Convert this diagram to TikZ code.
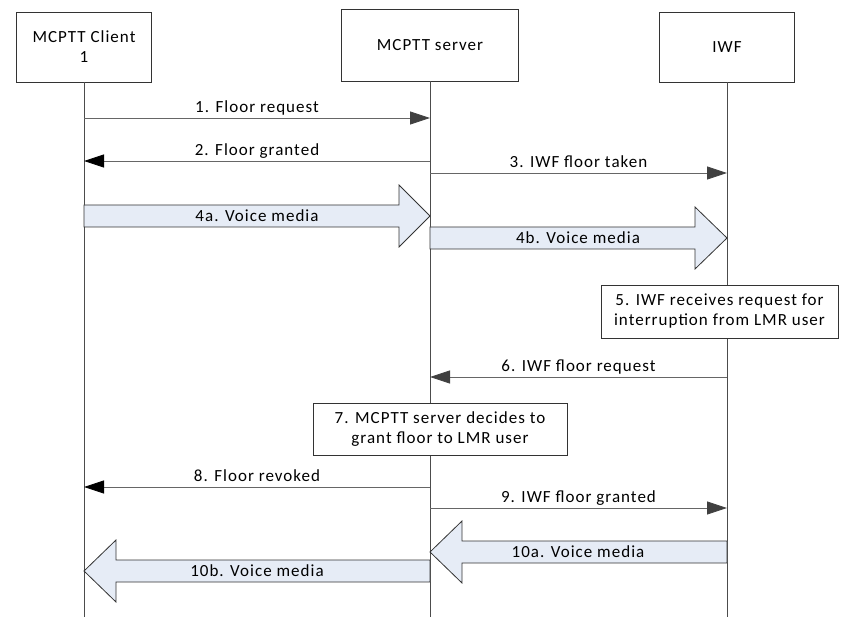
\documentclass[tikz,border=0pt]{standalone}
\usepackage{fontspec}
\setmainfont{Carlito}[LetterSpace=6]
\usetikzlibrary{arrows.meta}
\definecolor{mediablue}{RGB}{230,236,246}
\tikzset{entity/.style={draw=black!80, fill=white, line width=0.8pt, align=center, inner sep=2pt}}
\tikzset{lifeline/.style={draw=black!70, line width=0.8pt}}

\begin{document}
\begin{tikzpicture}[x=1pt, y=-1pt,
		font=\fontsize{17}{20}\selectfont,
		msg/.style={draw=black!60, line width=0.8pt, -{Triangle[length=20pt, width=13pt, color=black!75]}},
		msgback/.style={msg, -{Triangle[length=20pt, width=13pt, color=black]}},
		msglabel/.style={above, inner sep=1pt, text height=12pt, text depth=4pt},
		media/.style={draw=black!80, fill=mediablue, line width=0.8pt, line join=miter},
		medialabel/.style={anchor=base, inner sep=0pt}
		]
		\useasboundingbox (0,0) rectangle (845,617);
		% participants
		\node[entity, minimum width=135pt, minimum height=70pt] (cl) at (84,47) {MCPTT Client\\1};
		\node[entity, minimum width=177pt, minimum height=72pt] (sv) at (430,45) {MCPTT server};
		\node[entity, minimum width=135pt, minimum height=70pt] (iwf) at (727,47) {IWF};
		\draw[lifeline] (cl.south) -- (cl |- 0,617);
		\draw[lifeline] (sv.south) -- (sv |- 0,617);
		\draw[lifeline] (iwf.south) -- (iwf |- 0,617);

		% signalling
		\draw[msg] (cl |- 0,118) -- (sv |- 0,118) node[msglabel, midway] (m1) {1. Floor request};
		\draw[msgback] (sv |- 0,161) -- (cl |- 0,161) node[msglabel, midway] (m2) {2. Floor granted};
		\draw[msg] (sv |- 0,173) -- (iwf |- 0,173) node[msglabel, midway] (m3) {3. IWF floor taken};

		% media
		\draw[media] (cl |- 0,205) -- (399,205) -- (399,185) -- (sv |- 0,216) -- (399,247) -- (399,227) -- (cl |- 0,227) -- cycle;
		\node[medialabel] (m4a) at (257,221.5) {4a. Voice media};
		\draw[media] (sv |- 0,227) -- (695,227) -- (695,207) -- (iwf |- 0,238) -- (695,269) -- (695,249) -- (sv |- 0,249) -- cycle;
		\node[medialabel] (m4b) at (578,243.5) {4b. Voice media};

		\node[entity, minimum width=237pt, minimum height=53pt] (s5) at (719.5,311.5) {5. IWF receives request for\\interruption from LMR user};
		\draw[msg] (iwf |- 0,377) -- (sv |- 0,377) node[msglabel, midway] (m6) {6. IWF floor request};
		\node[entity, minimum width=254pt, minimum height=52pt] (s7) at (440,429) {7. MCPTT server decides to\\grant floor to LMR user};
		\draw[msgback] (sv |- 0,487) -- (cl |- 0,487) node[msglabel, midway] (m8) {8. Floor revoked};
		\draw[msg] (sv |- 0,508) -- (iwf |- 0,508) node[msglabel, midway] (m9) {9. IWF floor granted};

		\draw[media] (iwf |- 0,541) -- (462,541) -- (462,521) -- (sv |- 0,552) -- (462,583) -- (462,563) -- (iwf |- 0,563) -- cycle;
		\node[medialabel] (m10a) at (578,557.5) {10a. Voice media};
		\draw[media] (sv |- 0,560) -- (116,560) -- (116,540) -- (cl |- 0,571) -- (116,602) -- (116,582) -- (sv |- 0,582) -- cycle;
		\node[medialabel] (m10b) at (257,576.5) {10b. Voice media};
	\end{tikzpicture}
\end{document}
